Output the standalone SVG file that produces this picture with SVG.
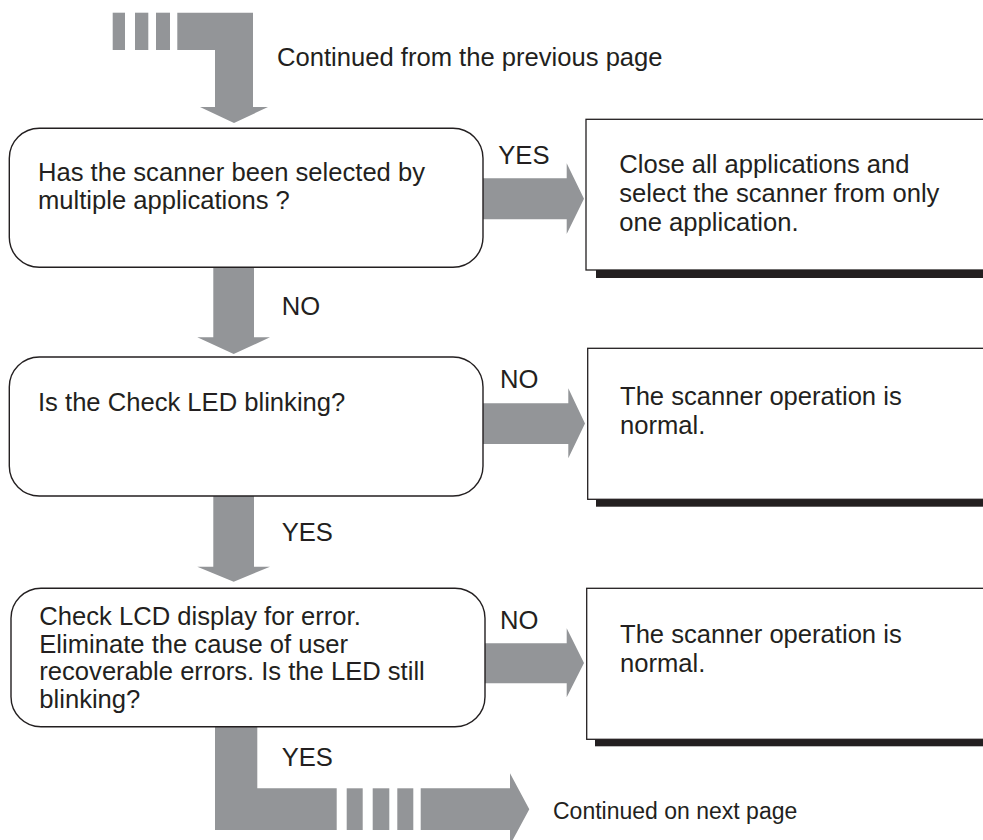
<svg xmlns="http://www.w3.org/2000/svg" width="983" height="840" viewBox="0 0 983 840">
<style>
.t{font-family:"Liberation Sans",Arial,sans-serif;font-size:25.6px;fill:#231f20}
.dec{fill:#fff;stroke:#231f20;stroke-width:1.4}
.res{fill:#fff;stroke:#231f20;stroke-width:1.3}
.sh{fill:#231f20}
.ar{fill:#939598}
</style>
<rect width="983" height="840" fill="#fff"/>
<g id="connectors">
  <g id="start-arrow">
    <rect class="ar" x="112.7" y="12.7" width="12.3" height="37.3"/>
    <rect class="ar" x="135" y="12.7" width="13.3" height="37.3"/>
    <rect class="ar" x="156" y="12.7" width="14" height="37.3"/>
    <polygon class="ar" points="177.3,12.7 253,12.7 253,107 268,107 234,123 200,107 215,107 215,50 177.3,50"/>
  </g>
  <polygon id="a1-yes" class="ar" points="483,178.3 566.7,178.3 566.7,163.3 584,198.7 566.7,234 566.7,219.3 483,219.3"/>
  <polygon id="a1-no" class="ar" points="213.3,267 254,267 254,337.3 270,337.3 233.7,354 197.3,337.3 213.3,337.3"/>
  <polygon id="a2-no" class="ar" points="483,403.3 568.3,403.3 568.3,388.3 585,423.5 568.3,458.3 568.3,444 483,444"/>
  <polygon id="a2-yes" class="ar" points="213.3,496 254,496 254,566.7 270,566.7 233.7,581.7 197.3,566.7 213.3,566.7"/>
  <polygon id="a3-no" class="ar" points="485,643.3 566.7,643.3 566.7,628.3 584,663 566.7,697.3 566.7,683.3 485,683.3"/>
  <g id="end-arrow">
    <polygon class="ar" points="215,727 257.3,727 257.3,788.3 336.7,788.3 336.7,830 215,830"/>
    <rect class="ar" x="346.7" y="788.3" width="16" height="41.7"/>
    <rect class="ar" x="372.7" y="788.3" width="16.6" height="41.7"/>
    <rect class="ar" x="397.3" y="788.3" width="16" height="41.7"/>
    <polygon class="ar" points="420.7,788.3 510,788.3 510,773.3 529.3,809.2 510,845 510,830 420.7,830"/>
  </g>
</g>
<text class="t" x="277" y="66">Continued from the previous page</text>
<g id="q1">
  <rect class="dec" x="9.3" y="128.3" width="473.7" height="139" rx="30" ry="30"/>
  <text class="t" x="38" y="181">Has the scanner been selected by</text>
  <text class="t" x="38" y="209.3">multiple applications ?</text>
</g>
<text class="t" x="498.3" y="164.3">YES</text>
<g id="r1">
  <rect class="sh" x="596" y="270" width="400" height="8"/>
  <rect class="res" x="586" y="119.3" width="420" height="150.7"/>
  <text class="t" x="619.3" y="172.5">Close all applications and</text>
  <text class="t" x="619.3" y="201.5">select the scanner from only</text>
  <text class="t" x="619.3" y="230.5">one application.</text>
</g>
<text class="t" x="281.7" y="315">NO</text>
<g id="q2">
  <rect class="dec" x="9.3" y="357" width="473.7" height="139" rx="30" ry="30"/>
  <text class="t" x="38" y="411">Is the Check LED blinking?</text>
</g>
<text class="t" x="500" y="388.3">NO</text>
<g id="r2">
  <rect class="sh" x="596" y="499.3" width="400" height="7.4"/>
  <rect class="res" x="587.7" y="348.3" width="420" height="151"/>
  <text class="t" x="620" y="405">The scanner operation is</text>
  <text class="t" x="620" y="434">normal.</text>
</g>
<text class="t" x="281.7" y="541">YES</text>
<g id="q3">
  <rect class="dec" x="11" y="588.3" width="474" height="138.4" rx="30" ry="30"/>
  <text class="t" x="39.3" y="625">Check LCD display for error.</text>
  <text class="t" x="39.3" y="652.5">Eliminate the cause of user</text>
  <text class="t" x="39.3" y="680">recoverable errors. Is the LED still</text>
  <text class="t" x="39.3" y="708.3">blinking?</text>
</g>
<text class="t" x="500" y="629.3">NO</text>
<g id="r3">
  <rect class="sh" x="595" y="739.3" width="400" height="7"/>
  <rect class="res" x="586.7" y="588.3" width="420" height="151"/>
  <text class="t" x="620" y="642.5">The scanner operation is</text>
  <text class="t" x="620" y="671.5">normal.</text>
</g>
<text class="t" x="281.7" y="766">YES</text>
<text class="t" x="553" y="819" style="font-size:23px">Continued on next page</text>
</svg>
